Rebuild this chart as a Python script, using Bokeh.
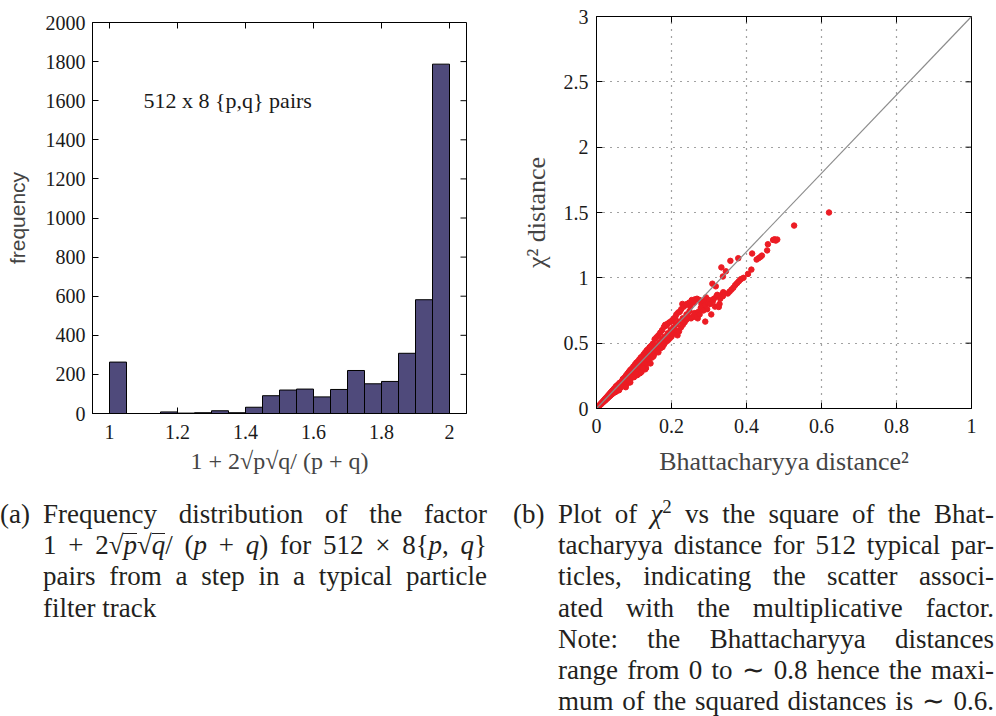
from bokeh.plotting import figure
from bokeh.models import FixedTicker, Label, Div, Range1d, ColumnDataSource, Spacer
from bokeh.layouts import column, row
from bokeh.embed import file_html
from bokeh.resources import INLINE

# ---------------- data: histogram (a) ----------------
bin_edges = [1.00, 1.05, 1.10, 1.15, 1.20, 1.25, 1.30, 1.35, 1.40, 1.45, 1.50,
             1.55, 1.60, 1.65, 1.70, 1.75, 1.80, 1.85, 1.90, 1.95, 2.00]
bin_counts = [263, 0, 0, 8, 2, 4, 14, 4, 32, 91, 120, 125, 85, 123,
              220, 152, 164, 308, 582, 1787]
hist_x_ticks = [1, 1.2, 1.4, 1.6, 1.8, 2]
hist_x_labels = ["1", "1.2", "1.4", "1.6", "1.8", "2"]
hist_y_ticks = [0, 200, 400, 600, 800, 1000, 1200, 1400, 1600, 1800, 2000]
hist_y_labels = ["0", "200", "400", "600", "800", "1000", "1200", "1400", "1600", "1800", "2000"]

# ---------------- data: scatter (b) ----------------
bhat_sq_a = [0.000, 0.001, 0.002, 0.003, 0.004, 0.005, 0.006, 0.007, 0.008, 0.009,
             0.010, 0.011, 0.012, 0.013, 0.014, 0.015, 0.016, 0.017, 0.018, 0.019,
             0.020, 0.021, 0.022, 0.023, 0.024, 0.025, 0.026, 0.027, 0.028, 0.029,
             0.030, 0.031, 0.032, 0.033, 0.034, 0.035, 0.036, 0.037, 0.038, 0.039,
             0.040, 0.041, 0.042, 0.043, 0.044, 0.045, 0.046, 0.047, 0.048, 0.049,
             0.050, 0.050]
chi2_a = [0.000, 0.004, 0.006, 0.008, 0.013, 0.014, 0.019, 0.020, 0.025, 0.026,
          0.031, 0.031, 0.038, 0.036, 0.044, 0.042, 0.050, 0.047, 0.057, 0.052,
          0.063, 0.058, 0.070, 0.062, 0.076, 0.068, 0.083, 0.073, 0.089, 0.079,
          0.096, 0.084, 0.102, 0.090, 0.109, 0.094, 0.115, 0.100, 0.122, 0.105,
          0.128, 0.110, 0.135, 0.114, 0.141, 0.120, 0.148, 0.124, 0.154, 0.130,
          0.160, 0.125]
bhat_sq_b = [0.052, 0.053, 0.055, 0.056, 0.058, 0.060, 0.061, 0.063, 0.064, 0.066, 0.067, 0.068,
             0.070, 0.071, 0.072, 0.074, 0.075, 0.076, 0.078, 0.079, 0.080, 0.082, 0.083, 0.084,
             0.086, 0.087, 0.088, 0.090, 0.091, 0.092, 0.094, 0.095, 0.096, 0.098, 0.099, 0.100,
             0.102, 0.103, 0.104, 0.106, 0.107, 0.108, 0.110, 0.111, 0.112, 0.114, 0.115, 0.116,
             0.118, 0.119, 0.120, 0.122, 0.123, 0.124, 0.126, 0.127, 0.128, 0.130, 0.131, 0.132,
             0.134, 0.135, 0.136, 0.138, 0.139, 0.140, 0.142, 0.143, 0.144, 0.146, 0.147, 0.148,
             0.150, 0.151, 0.152,
             0.060, 0.065, 0.078, 0.090, 0.098, 0.110, 0.117, 0.120, 0.130, 0.138, 0.142, 0.105,
             0.087, 0.096, 0.123]
chi2_b = [0.170, 0.150, 0.135, 0.180, 0.165, 0.145, 0.195, 0.180, 0.160, 0.205, 0.190, 0.170,
          0.225, 0.205, 0.175, 0.235, 0.215, 0.190, 0.250, 0.230, 0.185, 0.265, 0.240, 0.210,
          0.280, 0.255, 0.200, 0.295, 0.270, 0.235, 0.305, 0.280, 0.250, 0.320, 0.295, 0.240,
          0.335, 0.305, 0.270, 0.350, 0.320, 0.255, 0.360, 0.330, 0.290, 0.375, 0.345, 0.270,
          0.390, 0.355, 0.310, 0.400, 0.365, 0.300, 0.415, 0.380, 0.330, 0.430, 0.395, 0.310,
          0.445, 0.405, 0.350, 0.455, 0.420, 0.370, 0.470, 0.430, 0.345, 0.480, 0.445, 0.390,
          0.495, 0.455, 0.400,
          0.140, 0.165, 0.163, 0.200, 0.240, 0.260, 0.320, 0.280, 0.300, 0.380, 0.450, 0.260,
          0.215, 0.240, 0.310]
bhat_sq_c = [0.155, 0.160, 0.165, 0.170, 0.175, 0.180, 0.183, 0.187, 0.190, 0.195, 0.200, 0.205, 0.210,
             0.213, 0.218, 0.222, 0.226, 0.229, 0.233, 0.238, 0.242, 0.247, 0.250, 0.254, 0.258, 0.262,
             0.155, 0.160, 0.168, 0.175, 0.182, 0.190, 0.198, 0.205, 0.212, 0.220, 0.230, 0.240, 0.248,
             0.155, 0.160, 0.165, 0.170, 0.176, 0.180, 0.185, 0.190, 0.195, 0.200, 0.203, 0.207,
             0.211, 0.216, 0.220, 0.225, 0.230, 0.235, 0.240, 0.245, 0.252, 0.260, 0.265, 0.270]
chi2_c = [0.530, 0.545, 0.560, 0.580, 0.600, 0.625, 0.640, 0.635, 0.650, 0.660, 0.670, 0.685, 0.700,
          0.720, 0.735, 0.740, 0.760, 0.800, 0.780, 0.795, 0.800, 0.810, 0.780, 0.830, 0.820, 0.835,
          0.470, 0.485, 0.505, 0.530, 0.550, 0.575, 0.600, 0.620, 0.645, 0.665, 0.690, 0.720, 0.745,
          0.420, 0.440, 0.430, 0.460, 0.470, 0.490, 0.510, 0.520, 0.535, 0.550, 0.570, 0.580,
          0.600, 0.560, 0.590, 0.620, 0.640, 0.660, 0.680, 0.700, 0.690, 0.710, 0.700, 0.690]
bhat_sq_d = [0.255, 0.262, 0.268, 0.272, 0.275, 0.278, 0.280, 0.283, 0.286, 0.290,
             0.292, 0.295, 0.298, 0.300, 0.303, 0.306, 0.310, 0.313, 0.316, 0.320,
             0.324, 0.328, 0.330, 0.334, 0.290, 0.268, 0.260, 0.275, 0.285, 0.326, 0.337, 0.322]
chi2_d = [0.700, 0.730, 0.700, 0.740, 0.720, 0.770, 0.800, 0.780, 0.820, 0.790,
          0.850, 0.760, 0.810, 0.830, 0.800, 0.720, 0.820, 0.840, 0.780, 0.860,
          0.860, 0.800, 0.840, 0.870, 0.665, 0.840, 0.810, 0.830, 0.750, 0.777, 0.860, 0.870]
bhat_sq_e = [0.309, 0.318, 0.333, 0.337, 0.345, 0.357, 0.378, 0.338,
             0.350, 0.355, 0.360, 0.365, 0.370, 0.375, 0.380, 0.385, 0.392,
             0.404, 0.413, 0.415, 0.427, 0.432, 0.437, 0.441, 0.455, 0.457, 0.471, 0.475, 0.478, 0.482,
             0.527, 0.620]
chi2_e = [0.955, 0.935, 1.080, 1.010, 1.050, 1.130, 1.150, 0.890,
          0.880, 0.895, 0.910, 0.925, 0.945, 0.960, 0.975, 0.990, 1.000,
          1.030, 1.063, 1.186, 1.140, 1.150, 1.160, 1.170, 1.210, 1.257, 1.290, 1.295, 1.285, 1.293,
          1.400, 1.500]
ref_line_x = [0, 1]
ref_line_y = [0, 3]
sc_x_ticks = [0, 0.2, 0.4, 0.6, 0.8, 1]
sc_x_labels = ["0", "0.2", "0.4", "0.6", "0.8", "1"]
sc_y_ticks = [0, 0.5, 1, 1.5, 2, 2.5, 3]
sc_y_labels = ["0", "0.5", "1", "1.5", "2", "2.5", "3"]

bhat_sq = bhat_sq_a + bhat_sq_b + bhat_sq_c + bhat_sq_d + bhat_sq_e
chi2 = chi2_a + chi2_b + chi2_c + chi2_d + chi2_e

SERIF = "Liberation Serif"
TICK_FS = "20px"
TICK_PX = 6
BORDER_TOP = 16
BORDER_BOTTOM = 84
LEFT_SHIFT = 6          # panel (a) frame sits 6px lower than panel (b)


def style_axis(ax, ticks, labels, standoff):
    ax.ticker = FixedTicker(ticks=ticks)
    ax.major_label_overrides = {t: l for t, l in zip(ticks, labels)}
    ax.major_label_text_font = SERIF
    ax.major_label_text_font_size = TICK_FS
    ax.major_label_text_color = "#1a1a1a"
    ax.major_label_standoff = standoff
    ax.major_tick_in = TICK_PX
    ax.major_tick_out = 0
    ax.minor_tick_line_color = None
    ax.axis_line_color = "black"
    ax.major_tick_line_color = "black"


def mirror_ticks(p, xr, yr, fw, fh, xticks, yticks):
    # tick marks on the top and right edges of the box (MATLAB style)
    dy = TICK_PX * (yr[1] - yr[0]) / fh
    dx = TICK_PX * (xr[1] - xr[0]) / fw
    p.segment(x0=xticks, x1=xticks, y0=[yr[1]] * len(xticks), y1=[yr[1] - dy] * len(xticks),
              line_color="black", line_width=1)
    p.segment(x0=[xr[1]] * len(yticks), x1=[xr[1] - dx] * len(yticks), y0=yticks, y1=yticks,
              line_color="black", line_width=1)


# ---------------- figure (a) ----------------
xr1, yr1, fw1, fh1 = (0.95, 2.05), (0, 2000), 374, 391
p1 = figure(width=498, height=BORDER_TOP + fh1 + BORDER_BOTTOM, output_backend="svg",
            toolbar_location=None, x_range=Range1d(*xr1), y_range=Range1d(*yr1),
            min_border_left=92, min_border_right=498 - 92 - fw1,
            min_border_top=BORDER_TOP, min_border_bottom=BORDER_BOTTOM)
p1.outline_line_color = "black"
p1.grid.visible = False
src_h = ColumnDataSource(dict(left=bin_edges[:-1], right=bin_edges[1:], top=bin_counts))
p1.quad(left="left", right="right", bottom=0, top="top", source=src_h,
        fill_color="#4f4a7b", line_color="black", line_width=1)
style_axis(p1.xaxis[0], hist_x_ticks, hist_x_labels, 11)
style_axis(p1.yaxis[0], hist_y_ticks, hist_y_labels, 7)
p1.xaxis.axis_label = "1 + 2√p√q/ (p + q)"
p1.xaxis.axis_label_text_font = SERIF
p1.xaxis.axis_label_text_font_style = "normal"
p1.xaxis.axis_label_text_font_size = "24px"
p1.xaxis.axis_label_standoff = 6
p1.yaxis.axis_label = "frequency"
p1.yaxis.axis_label_text_font = "Liberation Sans"
p1.yaxis.axis_label_text_font_style = "normal"
p1.yaxis.axis_label_text_font_size = "21px"
p1.yaxis.axis_label_standoff = 14
mirror_ticks(p1, xr1, yr1, fw1, fh1, hist_x_ticks, hist_y_ticks)
p1.add_layout(Label(x=1.10, y=1600, text="512 x 8 {p,q} pairs", text_font=SERIF,
                    text_font_size="22px", text_baseline="middle", text_color="#1a1a1a"))

# ---------------- figure (b) ----------------
xr2, yr2, fw2, fh2 = (0, 1), (0, 3), 375, 392
p2 = figure(width=498, height=BORDER_TOP + fh2 + BORDER_BOTTOM, output_backend="svg",
            toolbar_location=None, x_range=Range1d(*xr2), y_range=Range1d(*yr2),
            min_border_left=98, min_border_right=498 - 98 - fw2,
            min_border_top=BORDER_TOP, min_border_bottom=BORDER_BOTTOM)
p2.outline_line_color = "black"
p2.grid.grid_line_color = "#444444"
p2.grid.grid_line_dash = "1 6"
p2.grid.grid_line_width = 1.2
p2.xgrid.ticker = FixedTicker(ticks=sc_x_ticks)
p2.ygrid.ticker = FixedTicker(ticks=sc_y_ticks)
style_axis(p2.xaxis[0], sc_x_ticks, sc_x_labels, 10)
style_axis(p2.yaxis[0], sc_y_ticks, sc_y_labels, 8)
p2.xaxis.axis_label = "Bhattacharyya distance²"
p2.xaxis.axis_label_text_font = SERIF
p2.xaxis.axis_label_text_font_style = "normal"
p2.xaxis.axis_label_text_font_size = "26px"
p2.xaxis.axis_label_standoff = 11
p2.yaxis.axis_label = "χ² distance"
p2.yaxis.axis_label_text_font = SERIF
p2.yaxis.axis_label_text_font_style = "normal"
p2.yaxis.axis_label_text_font_size = "26px"
p2.yaxis.axis_label_standoff = 10
mirror_ticks(p2, xr2, yr2, fw2, fh2, sc_x_ticks, sc_y_ticks)
p2.scatter(bhat_sq, chi2, size=5.5, marker="circle", fill_color="#ec1c24", line_color="#ec1c24")
p2.line(ref_line_x, ref_line_y, line_color="#8c8c8c", line_width=1.2)

# ---------------- captions ----------------
def jline(html, justify=True):
    st = "text-align:justify;text-align-last:justify;" if justify else "text-align:left;"
    return f'<div style="{st}">{html}</div>'

def sq(v):
    return ('√<span style="display:inline-block;border-top:1px solid #231f20;'
            f'line-height:22px;"><i>{v}</i></span>')

caption_a = [
    "Frequency distribution of the factor",
    f"1&nbsp;+&nbsp;2{sq('p')}{sq('q')}/&nbsp;(<i>p</i>&nbsp;+&nbsp;<i>q</i>) for 512&nbsp;×&nbsp;8{{<i>p</i>,&nbsp;<i>q</i>}}",
    "pairs from a step in a typical particle",
    "filter track",
]
caption_b = [
    "Plot of <i>χ</i><sup style='font-size:70%;line-height:0'>2</sup> vs the square of the Bhat-",
    "tacharyya distance for 512 typical par-",
    "ticles, indicating the scatter associ-",
    "ated with the multiplicative factor.",
    "Note: the Bhattacharyya distances",
    "range from 0 to ∼ 0.8 hence the maxi-",
    "mum of the squared distances is ∼ 0.6.",
]
block_a = "".join(jline(t, i < len(caption_a) - 1) for i, t in enumerate(caption_a))
block_b = "".join(jline(t, True) for t in caption_b)

TOP_H = LEFT_SHIFT + BORDER_TOP + fh1 + BORDER_BOTTOM
CAP_H = 716 - TOP_H
CAP_TOP = 499 - TOP_H
html = f"""
<div style="position:relative;width:996px;height:{CAP_H}px;font-family:'Liberation Serif',serif;
            font-size:27px;line-height:31.2px;color:#231f20;">
  <div style="position:absolute;left:0px;top:{CAP_TOP}px;">(a)</div>
  <div style="position:absolute;left:43px;top:{CAP_TOP}px;width:444px;">{block_a}</div>
  <div style="position:absolute;left:513px;top:{CAP_TOP}px;">(b)</div>
  <div style="position:absolute;left:558px;top:{CAP_TOP}px;width:436px;">{block_b}</div>
</div>
"""
captions = Div(text=html, width=996, height=CAP_H, margin=(0, 0, 0, 0))

left_col = column(Spacer(width=498, height=LEFT_SHIFT), p1, spacing=0)
layout = column(row(left_col, p2, spacing=0), captions, spacing=0)
open("out.html", "w").write(file_html(layout, INLINE))
